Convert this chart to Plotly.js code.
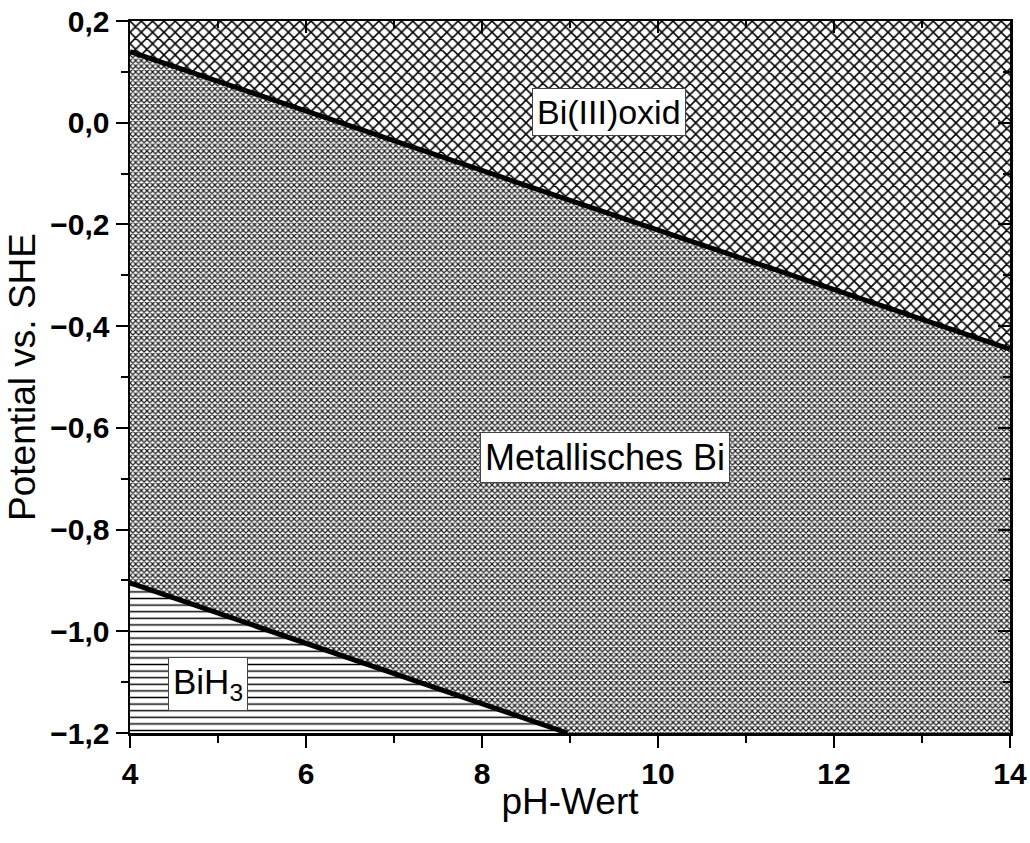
<!DOCTYPE html>
<html>
<head>
<meta charset="utf-8">
<script src="https://cdn.plot.ly/plotly-3.0.1.min.js"></script>
<style>
  html, body { margin: 0; padding: 0; background: #fff; }
  #chart { width: 1030px; height: 843px; }
</style>
</head>
<body>
<div id="chart"></div>
<script>
// Pourbaix-type stability regions of bismuth
const pHRange = [4, 14];
const potRange = [-1.2, 0.2];

// Bi / Bi(III) oxide boundary
const oxidLinePH = [4, 14];
const oxidLineE = [0.14, -0.445];

// Bi / BiH3 boundary
const hydridLinePH = [4, 8.97];
const hydridLineE = [-0.905, -1.2];

// tick positions (labels printed with decimal comma)
const pHTicks = [4, 6, 8, 10, 12, 14];
const potTicks = [0.2, 0.0, -0.2, -0.4, -0.6, -0.8, -1.0, -1.2];

const regionLabels = ['Bi(III)oxid', 'Metallisches Bi', 'BiH<sub>3</sub>'];
const labelPH = [9.44, 9.40, 4.89];
const labelE = [0.022, -0.658, -1.103];
const labelSizes = [34, 36, 35];

const [xMin, xMax] = pHRange;
const [yMin, yMax] = potRange;

const font = 'Arial, "Liberation Sans", sans-serif';

// region polygons built from the boundary lines and the axis limits
const oxidRegion = {
  x: [oxidLinePH[0], oxidLinePH[1], xMax, xMin, oxidLinePH[0]],
  y: [oxidLineE[0], oxidLineE[1], yMax, yMax, oxidLineE[0]]
};
const metalRegion = {
  x: [oxidLinePH[0], oxidLinePH[1], xMax, hydridLinePH[1], hydridLinePH[0], oxidLinePH[0]],
  y: [oxidLineE[0], oxidLineE[1], yMin, hydridLineE[1], hydridLineE[0], oxidLineE[0]]
};
const hydridRegion = {
  x: [hydridLinePH[0], hydridLinePH[1], xMin, hydridLinePH[0]],
  y: [hydridLineE[0], hydridLineE[1], yMin, hydridLineE[0]]
};

const traces = [
  {
    x: oxidRegion.x, y: oxidRegion.y, type: 'scatter', mode: 'lines',
    fill: 'toself', line: {width: 0}, fillcolor: 'white',
    fillpattern: {shape: 'x', size: 8, solidity: 0.35, fgcolor: '#000', bgcolor: '#fff'},
    hoverinfo: 'skip'
  },
  {
    x: metalRegion.x, y: metalRegion.y, type: 'scatter', mode: 'lines',
    fill: 'toself', line: {width: 0}, fillcolor: 'white',
    fillpattern: {shape: 'x', size: 4, solidity: 0.5, fgcolor: '#1a1a1a', bgcolor: '#fff'},
    hoverinfo: 'skip'
  },
  {
    x: hydridRegion.x, y: hydridRegion.y, type: 'scatter', mode: 'lines',
    fill: 'toself', line: {width: 0}, fillcolor: 'white',
    fillpattern: {shape: '-', size: 6.6, solidity: 0.22, fgcolor: '#000', bgcolor: '#fff'},
    hoverinfo: 'skip'
  },
  {
    x: oxidLinePH, y: oxidLineE, type: 'scatter', mode: 'lines',
    line: {color: '#000', width: 5}, hoverinfo: 'skip'
  },
  {
    x: hydridLinePH, y: hydridLineE, type: 'scatter', mode: 'lines',
    line: {color: '#000', width: 5}, hoverinfo: 'skip'
  },
  // invisible trace that carries the inside-tick top and right axes
  {x: pHRange, y: potRange, xaxis: 'x2', yaxis: 'y2', type: 'scatter', mode: 'none', hoverinfo: 'skip'}
];

const annotations = regionLabels.map((t, i) => ({
  x: labelPH[i], y: labelE[i], xref: 'x', yref: 'y',
  text: t, showarrow: false,
  font: {family: font, size: labelSizes[i], color: '#000'},
  bgcolor: '#fff', bordercolor: '#444', borderwidth: 1, borderpad: 4
}));

const tickFont = {family: font, size: 30, color: '#000', weight: 'bold'};
const titleFont = {family: font, size: 37, color: '#000'};

const layout = {
  width: 1030, height: 843,
  margin: {l: 130, r: 20, t: 21, b: 110},
  paper_bgcolor: '#fff', plot_bgcolor: '#fff',
  showlegend: false,
  separators: ', ',
  xaxis: {
    range: pHRange, tickmode: 'array', tickvals: pHTicks, tickformat: 'd',
    ticks: 'outside', ticklen: 12, tickwidth: 2, tickcolor: '#000',
    minor: {dtick: 1, ticks: 'outside', ticklen: 7, tickwidth: 2, tickcolor: '#000'},
    showline: true, linewidth: 2.5, linecolor: '#000',
    showgrid: false, zeroline: false,
    tickfont: tickFont,
    title: {text: 'pH-Wert', font: titleFont, standoff: 0}
  },
  yaxis: {
    range: potRange, tickmode: 'array', tickvals: potTicks, tickformat: '.1f',
    ticks: 'outside', ticklen: 12, tickwidth: 2, tickcolor: '#000',
    minor: {dtick: 0.1, ticks: 'outside', ticklen: 7, tickwidth: 2, tickcolor: '#000'},
    showline: true, linewidth: 2.5, linecolor: '#000',
    showgrid: false, zeroline: false,
    tickfont: tickFont,
    title: {text: 'Potential vs. SHE', font: titleFont, standoff: 4}
  },
  xaxis2: {
    overlaying: 'x', side: 'top', range: pHRange, tickmode: 'array', tickvals: pHTicks,
    ticks: 'inside', ticklen: 12, tickwidth: 2, tickcolor: '#000',
    minor: {dtick: 1, ticks: 'inside', ticklen: 7, tickwidth: 2, tickcolor: '#000'},
    showline: true, linewidth: 2.5, linecolor: '#000',
    showticklabels: false, showgrid: false, zeroline: false
  },
  yaxis2: {
    overlaying: 'y', side: 'right', range: potRange, tickmode: 'array', tickvals: potTicks,
    ticks: 'inside', ticklen: 12, tickwidth: 2, tickcolor: '#000',
    minor: {dtick: 0.1, ticks: 'inside', ticklen: 7, tickwidth: 2, tickcolor: '#000'},
    showline: true, linewidth: 2.5, linecolor: '#000',
    showticklabels: false, showgrid: false, zeroline: false
  },
  annotations: annotations
};

Plotly.newPlot('chart', traces, layout, {displayModeBar: false, staticPlot: true});
</script>
</body>
</html>
